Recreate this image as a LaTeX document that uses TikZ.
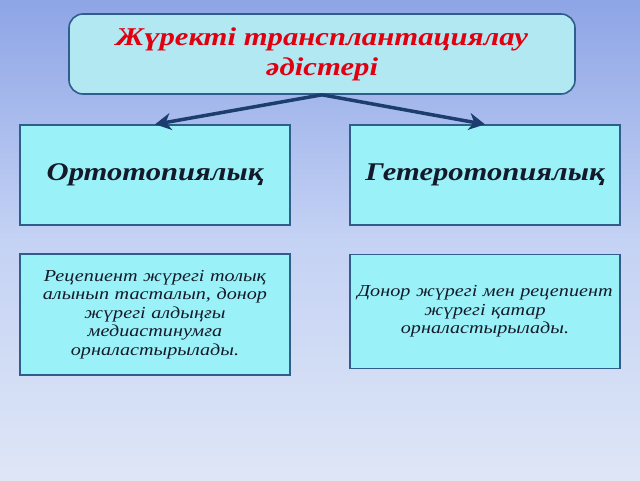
\documentclass[tikz,border=0pt]{standalone}
\usepackage{fontspec}
\setmainfont[FakeStretch=1.2]{Liberation Serif}
\usetikzlibrary{arrows.meta}
\definecolor{bgtop}{HTML}{8EA5E6}
\definecolor{bgmid}{HTML}{C4D2F4}
\definecolor{bgbot}{HTML}{DEE6F6}
\definecolor{boxfill}{HTML}{9AF2F8}
\definecolor{titlefill}{HTML}{B2E8F2}
\definecolor{boxline}{HTML}{2F5D8C}
\definecolor{arrowc}{HTML}{1C3E6E}
\definecolor{titlered}{HTML}{E00010}
\definecolor{txt}{HTML}{151A2A}
\tikzset{
  x=1pt,y=1pt,
  titlebox/.style={draw=boxline,line width=1.6pt,fill=titlefill,rounded corners=14pt,
    minimum width=506pt,minimum height=80pt,align=center,inner sep=0pt,
    font=\fontsize{25.6}{30}\selectfont\bfseries\itshape,text=titlered},
  headbox/.style={draw=boxline,line width=1.3pt,fill=boxfill,
    minimum width=270pt,minimum height=100pt,align=center,inner sep=0pt,
    font=\fontsize{25.5}{28}\selectfont\bfseries\itshape,text=txt},
  descbox/.style={draw=boxline,line width=1.3pt,fill=boxfill,
    minimum width=270pt,align=center,inner sep=0pt,text width=266pt,
    font=\fontsize{16.8}{18.4}\selectfont\itshape,text=txt},
  conn/.style={draw=arrowc,line width=3.5pt,-{Stealth[length=16pt,width=17pt,inset=5pt]}}
}
\begin{document}
\begin{tikzpicture}
\useasboundingbox (0,0) rectangle (640,-480);
\shade[top color=bgtop,bottom color=bgbot,middle color=bgmid] (0,0) rectangle (640,-480);
\node[titlebox] (title) at (322,-54) {Жүректі трансплантациялау\\әдістері};
\node[headbox] (ortho) at (155,-175) {Ортотопиялық};
\node[headbox] (hetero) at (485,-175) {Гетеротопиялық};
\node[descbox,minimum height=121pt] (odesc) at (155,-314.5) {Рецепиент жүрегі толық\\алынып тасталып, донор\\жүрегі алдыңғы\\медиастинумға\\орналастырылады.};
\node[descbox,minimum height=114pt] (hdesc) at (485,-311.5) {Донор жүрегі мен рецепиент\\жүрегі қатар\\орналастырылады.};
\draw[conn] (title.south) -- (ortho.north);
\draw[conn] (title.south) -- (hetero.north);
\end{tikzpicture}
\end{document}
